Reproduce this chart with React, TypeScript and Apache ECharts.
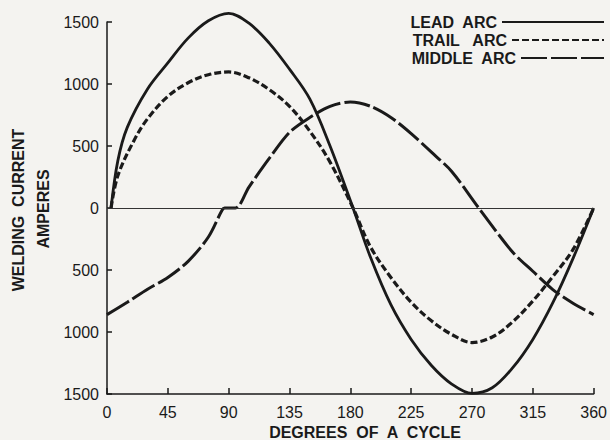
import React, { useEffect, useRef } from "react";
import * as echarts from "echarts";

const xTicks = [0, 45, 90, 135, 180, 225, 270, 315, 360];
const yTicks = [-1500, -1000, -500, 0, 500, 1000, 1500];

const leadDeg = [3, 8, 15, 30, 45, 60, 75, 90, 105, 120, 135, 150, 165, 182, 195, 210, 225, 240, 255, 270, 285, 300, 315, 330, 345, 360];
const leadAmp = [0, 380, 650, 960, 1170, 1370, 1510, 1570, 1490, 1330, 1120, 880, 500, 0, -400, -780, -1060, -1270, -1420, -1495, -1450, -1290, -1060, -760, -400, 0];

const trailDeg = [3, 8, 20, 30, 45, 60, 75, 90, 105, 120, 135, 150, 165, 182, 195, 210, 225, 240, 255, 270, 285, 300, 315, 330, 345, 360];
const trailAmp = [0, 260, 545, 720, 900, 1010, 1075, 1097, 1050, 955, 820, 620, 370, 0, -315, -560, -760, -910, -1020, -1085, -1040, -919, -750, -550, -330, 0];

const middleDeg = [0, 15, 30, 45, 60, 75, 85, 87, 95, 105, 120, 135, 150, 165, 180, 195, 210, 225, 240, 255, 275, 300, 315, 330, 345, 360];
const middleAmp = [-860, -760, -655, -560, -430, -234, -20, 0, 0, 169, 400, 610, 730, 820, 855, 820, 730, 600, 450, 295, 0, -355, -510, -660, -770, -860];

const seriesNames = ["LEAD  ARC", "TRAIL   ARC", "MIDDLE  ARC"];

const ink = "#1a1a1a";
const FONT = "Liberation Sans, Arial, sans-serif";

function pairs(xs: number[], ys: number[]) {
  return xs.map((x, i) => [x, ys[i]]);
}

export default function App() {
  const ref = useRef<HTMLDivElement>(null);
  useEffect(() => {
    if (!ref.current) return;
    const chart = echarts.init(ref.current, null, { renderer: "svg" });
    const legendBase = {
      orient: "vertical" as const,
      right: 5,
      padding: 0,
      align: "right" as const,
      itemHeight: 16,
      selectedMode: false,
      itemStyle: { opacity: 0 },
      textStyle: { fontFamily: FONT, fontSize: 16, fontWeight: "bold", color: ink },
    };
    chart.setOption({
      animation: false,
      backgroundColor: "#f4f3f0",
      grid: { left: 107, right: 11, top: 22, bottom: 46 },
      legend: [
        { ...legendBase, data: [seriesNames[0]], top: 14, itemWidth: 102 },
        { ...legendBase, data: [seriesNames[1]], top: 32, itemWidth: 92 },
        { ...legendBase, data: [seriesNames[2]], top: 50, itemWidth: 83 },
      ],
      xAxis: {
        type: "value",
        min: xTicks[0],
        max: xTicks[xTicks.length - 1],
        interval: 45,
        axisLine: { onZero: false, lineStyle: { color: ink, width: 1.5 } },
        axisTick: { inside: true, length: 6, lineStyle: { color: ink, width: 1.5 } },
        axisLabel: { fontFamily: FONT, fontSize: 16, color: ink, margin: 10 },
        splitLine: { show: false },
      },
      yAxis: {
        type: "value",
        min: yTicks[0],
        max: yTicks[yTicks.length - 1],
        interval: 500,
        axisLine: { show: true, lineStyle: { color: ink, width: 1.5 } },
        axisTick: { show: true, inside: true, length: 5, lineStyle: { color: ink, width: 1.5 } },
        axisLabel: {
          fontFamily: FONT,
          fontSize: 16,
          color: ink,
          margin: 8,
          formatter: (v: number) => String(Math.abs(v)),
        },
        splitLine: { show: false },
      },
      graphic: [
        {
          type: "text",
          x: 18,
          y: 210,
          rotation: Math.PI / 2,
          style: {
            text: "WELDING  CURRENT",
            font: `bold 16px ${FONT}`,
            fill: ink,
            textAlign: "center",
            textVerticalAlign: "middle",
          },
        },
        {
          type: "text",
          x: 43,
          y: 209,
          rotation: Math.PI / 2,
          style: {
            text: "AMPERES",
            font: `bold 16px ${FONT}`,
            fill: ink,
            textAlign: "center",
            textVerticalAlign: "middle",
          },
        },
        {
          type: "text",
          x: 365,
          y: 432,
          style: {
            text: "DEGREES  OF  A  CYCLE",
            font: `bold 16px ${FONT}`,
            fill: ink,
            textAlign: "center",
            textVerticalAlign: "middle",
          },
        },
      ],
      series: [
        {
          name: seriesNames[0],
          type: "line",
          data: pairs(leadDeg, leadAmp),
          smooth: 0.35,
          clip: false,
          symbol: "none",
          lineStyle: { color: ink, width: 2.8, type: "solid" },
          itemStyle: { color: ink },
          markLine: {
            silent: true,
            symbol: "none",
            label: { show: false },
            lineStyle: { color: "#333", width: 1.2, type: "solid" },
            data: [{ yAxis: 0 }],
          },
        },
        {
          name: seriesNames[1],
          type: "line",
          data: pairs(trailDeg, trailAmp),
          smooth: 0.35,
          clip: false,
          symbol: "none",
          lineStyle: { color: ink, width: 3.2, type: [7, 3] },
          itemStyle: { color: ink },
        },
        {
          name: seriesNames[2],
          type: "line",
          data: pairs(middleDeg, middleAmp),
          smooth: 0.3,
          clip: false,
          symbol: "none",
          lineStyle: { color: ink, width: 3, type: [26, 4] },
          itemStyle: { color: ink },
        },
      ],
    });
    return () => chart.dispose();
  }, []);
  return <div ref={ref} style={{ width: 610, height: 440, position: "absolute", left: 0, top: 0 }} />;
}
